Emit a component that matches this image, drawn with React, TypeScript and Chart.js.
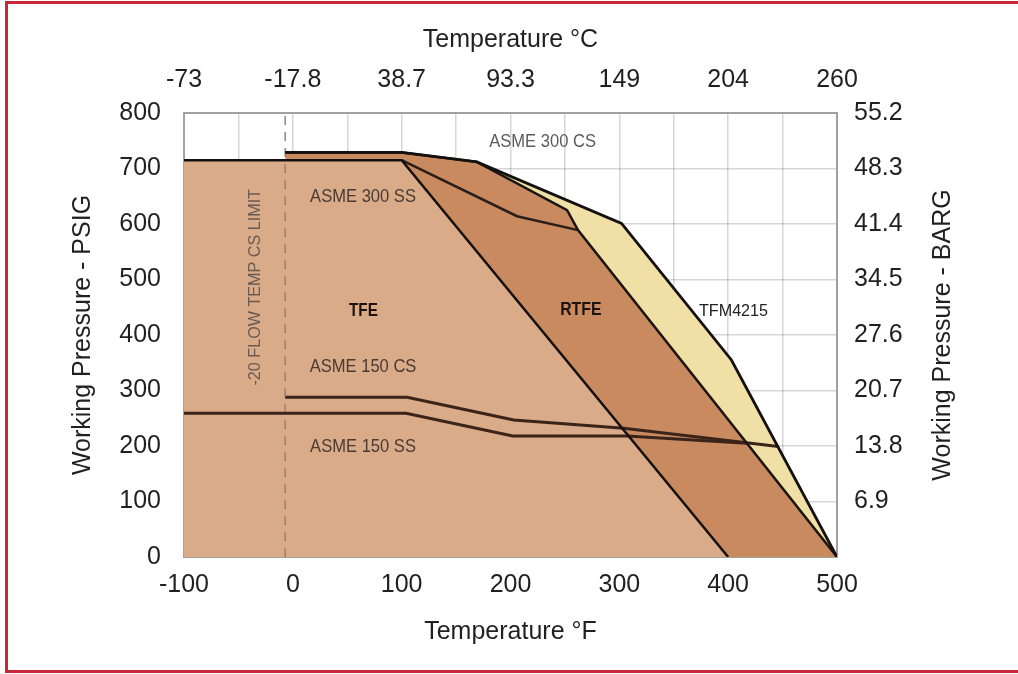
import { useEffect, useRef } from 'react';
import { Chart, registerables } from 'chart.js';

Chart.register(...registerables);

const FONT = "'Liberation Sans', Arial, Helvetica, sans-serif";

// Axis tick labels
const celsiusLabels = ['-73', '-17.8', '38.7', '93.3', '149', '204', '260'];
const bargLabels = ['', '6.9', '13.8', '20.7', '27.6', '34.5', '41.4', '48.3', '55.2'];

// Series: temperature (°F) and working pressure (PSIG)
const tfeTempF = [-100, 100, 400];
const tfePsig = [715, 715, 0];

const tfmTempF = [-7, 100, 169, 302, 403, 500];
const tfmPsig = [729, 729, 712, 601, 355, 0];

const rtfeTempF = [-7, 100, 169, 252, 262, 500];
const rtfePsig = [729, 729, 712, 625, 589, 0];

const ss300TempF = [100, 206, 262];
const ss300Psig = [715, 614, 589];

const cs150TempF = [-7, 105, 203, 304, 446];
const cs150Psig = [288, 288, 247, 232, 199];

const ss150TempF = [-100, 104, 202, 307, 417];
const ss150Psig = [259, 259, 218, 218, 205];

const csLimitTempF = [-7, -7];
const csLimitPsig = [0, 800];

// Text annotations placed in data units
const annotationText = ['ASME 300 CS', 'ASME 300 SS', 'TFE', 'RTFE', 'TFM4215', 'ASME 150 CS', 'ASME 150 SS', '-20 FLOW TEMP CS LIMIT'];
const annotationTempF = [229.5, 64.5, 64.9, 264.6, 404.9, 64.5, 64.5, -34.7];
const annotationPsig = [747, 649, 444, 445, 442, 343, 198.7, 486];

const annotationStyle = [
  { font: `18px ${FONT}`, color: '#5e5a5a', sx: 0.92, rot: 0 },
  { font: `18px ${FONT}`, color: '#4a3a34', sx: 0.92, rot: 0 },
  { font: `bold 18px ${FONT}`, color: '#1c120e', sx: 0.85, rot: 0 },
  { font: `bold 18px ${FONT}`, color: '#1c120e', sx: 0.88, rot: 0 },
  { font: `17px ${FONT}`, color: '#222222', sx: 0.95, rot: 0 },
  { font: `18px ${FONT}`, color: '#4a3a34', sx: 0.92, rot: 0 },
  { font: `18px ${FONT}`, color: '#4a3a34', sx: 0.92, rot: 0 },
  { font: `17px ${FONT}`, color: '#6a5a52', sx: 0.95, rot: -Math.PI / 2 },
];

const zip = (xs: number[], ys: number[]) => xs.map((x, i) => ({ x, y: ys[i] }));

const overlayPlugin = {
  id: 'overlay',
  afterDraw(chart: any) {
    const { ctx, chartArea, scales } = chart;
    ctx.save();
    annotationText.forEach((t, i) => {
      const st = annotationStyle[i];
      const px = scales.x.getPixelForValue(annotationTempF[i]);
      const py = scales.y.getPixelForValue(annotationPsig[i]);
      ctx.save();
      ctx.translate(px, py);
      ctx.rotate(st.rot);
      ctx.scale(st.sx, 1);
      ctx.font = st.font;
      ctx.fillStyle = st.color;
      ctx.textAlign = 'center';
      ctx.textBaseline = 'middle';
      ctx.fillText(t, 0, 0);
      ctx.restore();
    });
    // right axis title, reading bottom-to-top
    ctx.translate(chartArea.right + 106, (chartArea.top + chartArea.bottom) / 2);
    ctx.rotate(-Math.PI / 2);
    ctx.font = `25px ${FONT}`;
    ctx.fillStyle = '#231f20';
    ctx.textAlign = 'center';
    ctx.textBaseline = 'middle';
    ctx.fillText('Working Pressure - BARG', 0, 0);
    ctx.restore();
  },
};

const lineDs = (label: string, xs: number[], ys: number[], color: string, width: number, extra: any = {}) => ({
  label,
  data: zip(xs, ys),
  borderColor: color,
  borderWidth: width,
  backgroundColor: 'transparent',
  fill: false,
  pointRadius: 0,
  pointHoverRadius: 0,
  tension: 0,
  ...extra,
});

const fillDs = (label: string, xs: number[], ys: number[], color: string) => ({
  label,
  data: zip(xs, ys),
  borderWidth: 0,
  borderColor: 'transparent',
  backgroundColor: color,
  fill: 'origin',
  pointRadius: 0,
  pointHoverRadius: 0,
  tension: 0,
});

export default function App() {
  const ref = useRef<HTMLCanvasElement>(null);

  useEffect(() => {
    const canvas = ref.current;
    if (!canvas) return;
    const tickFont = { family: FONT, size: 25 };
    const gridColor = 'rgba(0,0,0,0.16)';
    const borderColor = '#a0a0a0';
    const chart = new Chart(canvas, {
      type: 'line',
      data: {
        datasets: [
          lineDs('TFE', tfeTempF, tfePsig, '#141010', 2.5),
          lineDs('ASME 300 CS / TFM4215', tfmTempF, tfmPsig, '#141010', 2.8),
          lineDs('RTFE', rtfeTempF, rtfePsig, '#1a1512', 2.5),
          lineDs('ASME 300 SS', ss300TempF, ss300Psig, '#2b1d17', 2.5),
          lineDs('ASME 150 CS', cs150TempF, cs150Psig, '#3a2419', 3),
          lineDs('ASME 150 SS', ss150TempF, ss150Psig, '#3a2419', 3),
          lineDs('-20 flow temp CS limit', csLimitTempF, csLimitPsig, '#8c8480', 1.5, { borderDash: [9, 7] }),
          fillDs('TFE area', tfeTempF, tfePsig, '#d9ab88'),
          fillDs('RTFE area', rtfeTempF, rtfePsig, '#c98a60'),
          fillDs('TFM4215 area', tfmTempF, tfmPsig, '#f0e0a6'),
        ],
      } as any,
      options: {
        animation: false,
        responsive: false,
        events: [],
        layout: { padding: 0 },
        plugins: { legend: { display: false }, tooltip: { enabled: false } },
        scales: {
          x: {
            type: 'linear',
            position: 'bottom',
            min: -100,
            max: 500,
            z: 1,
            grid: { color: gridColor, lineWidth: 1.5, drawTicks: false },
            border: { color: borderColor, width: 2 },
            ticks: {
              stepSize: 50,
              autoSkip: false,
              maxRotation: 0,
              padding: 13,
              color: '#231f20',
              font: tickFont,
              callback: (v: any) => (Number(v) % 100 === 0 ? String(v) : ''),
            },
            title: {
              display: true,
              text: 'Temperature °F',
              color: '#231f20',
              font: tickFont,
              padding: { top: 27, bottom: 27 },
            },
            afterFit: (s: any) => { s.height = 117; },
          },
          x2: {
            type: 'linear',
            position: 'top',
            min: -100,
            max: 500,
            z: 1,
            grid: { display: false, drawTicks: false },
            border: { color: borderColor, width: 2 },
            ticks: {
              stepSize: 100,
              autoSkip: false,
              maxRotation: 0,
              padding: 18,
              color: '#231f20',
              font: tickFont,
              callback: (_v: any, i: number) => celsiusLabels[i] ?? '',
            },
            title: {
              display: true,
              text: 'Temperature °C',
              color: '#231f20',
              font: tickFont,
              padding: { top: 25, bottom: 25 },
            },
            afterFit: (s: any) => { s.height = 113; },
          },
          y: {
            type: 'linear',
            position: 'left',
            min: 0,
            max: 800,
            z: 1,
            grid: { color: gridColor, lineWidth: 1.5, drawTicks: false },
            border: { color: borderColor, width: 2 },
            ticks: {
              stepSize: 100,
              autoSkip: false,
              padding: 23,
              color: '#231f20',
              font: tickFont,
            },
            title: {
              display: true,
              text: 'Working Pressure - PSIG',
              color: '#231f20',
              font: tickFont,
              padding: { top: 68, bottom: 0 },
            },
            afterFit: (s: any) => { s.width = 184; },
          },
          y2: {
            type: 'linear',
            position: 'right',
            min: 0,
            max: 800,
            z: 1,
            grid: { display: false, drawTicks: false },
            border: { color: borderColor, width: 2 },
            ticks: {
              stepSize: 100,
              autoSkip: false,
              padding: 17,
              color: '#231f20',
              font: tickFont,
              callback: (_v: any, i: number) => bargLabels[i] ?? '',
            },
            afterFit: (s: any) => { s.width = 181; },
          },
        },
      } as any,
      plugins: [overlayPlugin],
    });
    return () => chart.destroy();
  }, []);

  return (
    <div
      style={{
        position: 'absolute',
        left: 0,
        top: 0,
        width: 1018,
        height: 674,
        background: '#ffffff',
        overflow: 'hidden',
      }}
    >
      <canvas ref={ref} width={1018} height={674} style={{ display: 'block' }} />
      <div
        style={{
          position: 'absolute',
          left: 5,
          top: 1,
          width: 1013,
          height: 672,
          boxSizing: 'border-box',
          borderTop: '3px solid #c8283a',
          borderLeft: '3px solid #c8283a',
          borderBottom: '3px solid #c8283a',
          pointerEvents: 'none',
        }}
      />
    </div>
  );
}
